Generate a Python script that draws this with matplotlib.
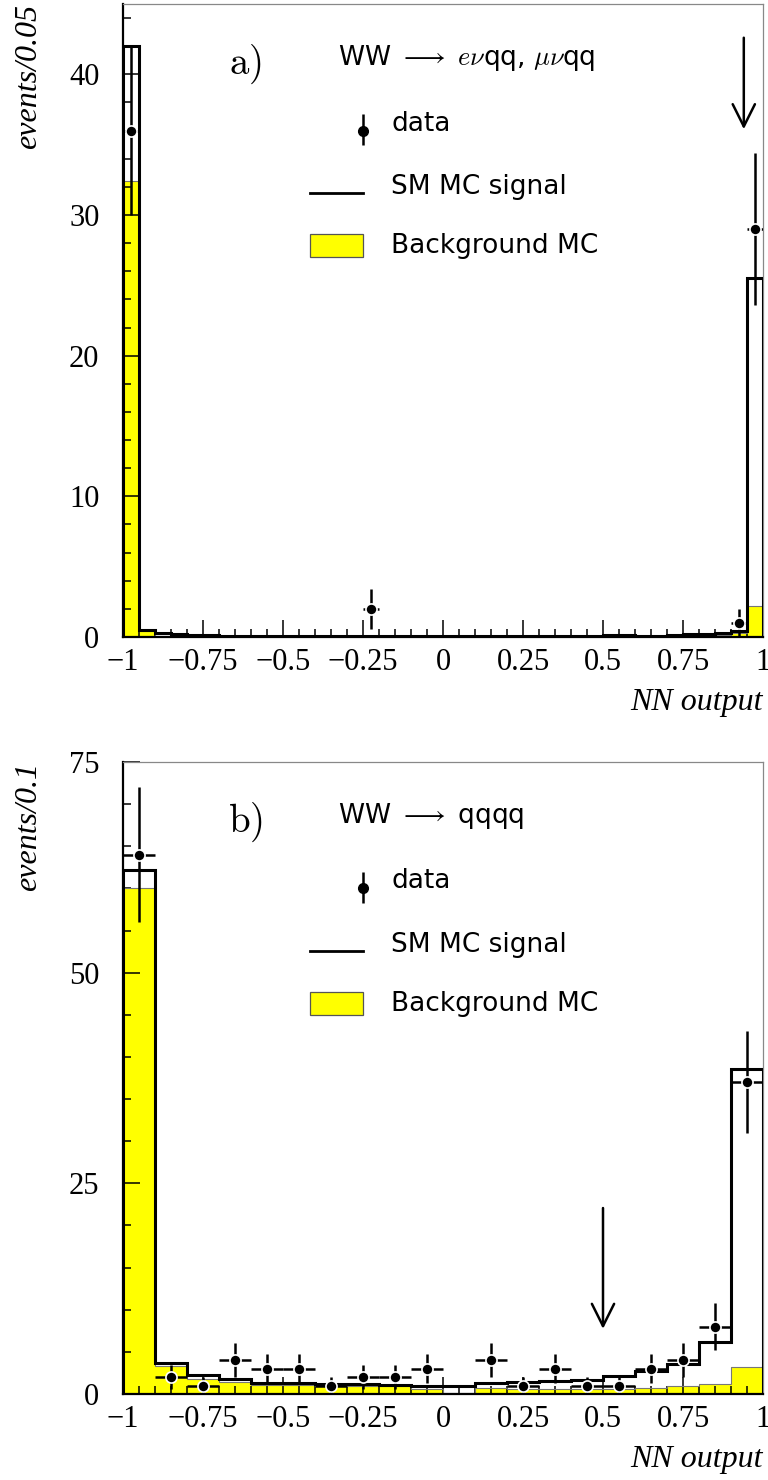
import numpy as np
import matplotlib.pyplot as plt
from matplotlib.ticker import MultipleLocator, FuncFormatter
from matplotlib.lines import Line2D
from matplotlib.patches import Rectangle

plt.rcParams['font.family'] = 'serif'
plt.rcParams['font.serif'] = ['Liberation Serif', 'DejaVu Serif']
plt.rcParams['mathtext.fontset'] = 'cm'

# panel a) semileptonic channel, bins of 0.05
edges_a = np.linspace(-1, 1, 41)
signal_a = [42.0, 0.5, 0.3, 0.2, 0.15, 0.15, 0.1, 0.1, 0.1, 0.1,
            0.1, 0.1, 0.05, 0.05, 0.05, 0.05, 0.1, 0.1, 0.05, 0.05,
            0.05, 0.05, 0.05, 0.05, 0.05, 0.05, 0.05, 0.05, 0.1, 0.1,
            0.15, 0.15, 0.1, 0.1, 0.15, 0.2, 0.2, 0.3, 0.4, 25.5]
backgr_a = [32.4, 0.4, 0.1, 0.05, 0.05, 0.03, 0.03, 0.03, 0.03, 0.03,
            0.02, 0.02, 0.02, 0.02, 0.02, 0.02, 0.02, 0.02, 0.02, 0.02,
            0.02, 0.02, 0.02, 0.02, 0.02, 0.02, 0.02, 0.02, 0.02, 0.02,
            0.03, 0.03, 0.03, 0.03, 0.05, 0.05, 0.1, 0.15, 0.3, 2.2]
data_a = [36, 0, 0, 0, 0, 0, 0, 0, 0, 0,
          0, 0, 0, 0, 0, 2, 0, 0, 0, 0,
          0, 0, 0, 0, 0, 0, 0, 0, 0, 0,
          0, 0, 0, 0, 0, 0, 0, 0, 1, 29]
cut_a = 0.94

# panel b) hadronic channel, bins of 0.1
edges_b = np.linspace(-1, 1, 21)
signal_b = [62.2, 3.7, 2.25, 1.8, 1.35, 1.35, 1.2, 1.2, 1.1, 1.0,
            0.9, 1.3, 1.4, 1.5, 1.7, 2.1, 2.7, 3.6, 6.2, 38.6]
backgr_b = [60.0, 3.3, 1.8, 1.4, 1.1, 1.05, 1.0, 0.95, 0.9, 0.55,
            0.1, 0.7, 0.6, 0.55, 0.6, 0.6, 0.7, 1.0, 1.2, 3.2]
data_b = [64, 2, 1, 4, 3, 3, 1, 2, 2, 3,
          0, 4, 1, 3, 1, 1, 3, 4, 8, 37]
cut_b = 0.5

yellow = '#ffff00'
sans = 'DejaVu Sans'


def fmt(v, pos):
    s = f'{v:g}'
    return s.replace('-', '\u2212')


def draw_panel(ax, edges, signal, backgr, data, cut, ymax, ymaj, ymin,
               tag, title, ylab, arrow_y):
    # background MC (filled) and signal+background line
    ax.stairs(backgr, edges, fill=True, color=yellow, zorder=1)
    ax.stairs(backgr, edges, color='#777777', lw=0.8, zorder=2)
    ax.stairs(signal, edges, color='black', lw=2.2, zorder=3)

    centers = 0.5 * (edges[1:] + edges[:-1])
    half = 0.5 * (edges[1] - edges[0])
    d = np.array(data, dtype=float)
    m = d > 0
    ax.errorbar(centers[m], d[m], yerr=np.sqrt(d[m]), xerr=half,
                fmt='o', color='black', ms=8, mec='white', mew=1.2,
                elinewidth=1.8, capsize=0, zorder=5)

    # cut arrow
    ax.annotate('', xy=(cut, arrow_y[1]), xytext=(cut, arrow_y[0]),
                arrowprops=dict(arrowstyle='->,head_length=1.6,head_width=0.8',
                                lw=1.8, color='black'), zorder=6)

    ax.set_xlim(-1, 1)
    ax.set_ylim(0, ymax)
    ax.xaxis.set_major_locator(MultipleLocator(0.25))
    ax.xaxis.set_minor_locator(MultipleLocator(0.05))
    ax.yaxis.set_major_locator(MultipleLocator(ymaj))
    ax.yaxis.set_minor_locator(MultipleLocator(ymin))
    ax.xaxis.set_major_formatter(FuncFormatter(fmt))
    ax.tick_params(which='both', direction='in', top=False, right=False,
                   width=1.1, labelsize=22)
    ax.tick_params(which='major', length=12)
    ax.tick_params(which='minor', length=6)
    ax.tick_params(axis='y', pad=17)
    ax.tick_params(axis='x', pad=8)
    for s in ['left', 'bottom']:
        ax.spines[s].set_linewidth(1.6)
    for s in ['top', 'right']:
        ax.spines[s].set_color('#888888')
        ax.spines[s].set_linewidth(0.9)

    ax.text(-0.148, 1.0, ylab, transform=ax.transAxes, rotation=90,
            ha='center', va='top', style='italic', fontsize=23)
    ax.text(1.0, -0.104, 'NN output', transform=ax.transAxes,
            ha='right', va='center', style='italic', fontsize=23)

    # labels and hand made legend
    ax.text(0.191, 0.904, tag, transform=ax.transAxes, fontsize=28,
            ha='center', va='center')
    ax.text(0.336, 0.914, title, transform=ax.transAxes, fontsize=19,
            ha='left', va='center', family=sans)
    ax.errorbar([0.375], [0.800], yerr=[[0.023], [0.026]], fmt='o',
                color='black', ms=7, elinewidth=1.8, capsize=0,
                transform=ax.transAxes, clip_on=False)
    ax.text(0.419, 0.811, 'data', transform=ax.transAxes, fontsize=19,
            ha='left', va='center', family=sans)
    ax.add_line(Line2D([0.292, 0.375], [0.701, 0.701], color='black', lw=2.0,
                       transform=ax.transAxes))
    ax.text(0.419, 0.711, 'SM MC signal', transform=ax.transAxes, fontsize=19,
            ha='left', va='center', family=sans)
    ax.add_patch(Rectangle((0.292, 0.600), 0.083, 0.036, transform=ax.transAxes,
                           facecolor=yellow, edgecolor='#555555', lw=0.9))
    ax.text(0.419, 0.617, 'Background MC', transform=ax.transAxes, fontsize=19,
            ha='left', va='center', family=sans)


fig = plt.figure(figsize=(7.68, 14.8), dpi=100)
ax_a = fig.add_axes([123 / 768, 1 - 637 / 1480, 640 / 768, 633 / 1480])
ax_b = fig.add_axes([123 / 768, 1 - 1394 / 1480, 640 / 768, 632 / 1480])

draw_panel(ax_a, edges_a, signal_a, backgr_a, data_a, cut_a, 45, 10, 2,
           r'$\mathrm{a)}$', r'WW $\longrightarrow$ $e\nu$qq, $\mu\nu$qq',
           'events/0.05', (42.8, 35.9))
draw_panel(ax_b, edges_b, signal_b, backgr_b, data_b, cut_b, 75, 25, 5,
           r'$\mathrm{b)}$', r'WW $\longrightarrow$ qqqq',
           'events/0.1', (22.4, 7.4))

fig.savefig('out.png', dpi=100)
